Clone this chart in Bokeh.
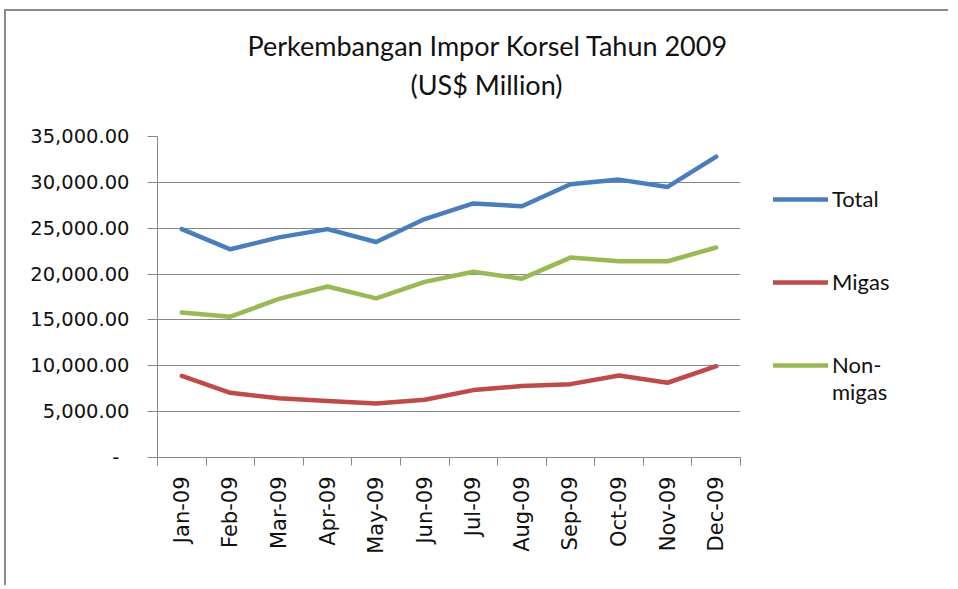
import math
from bokeh.plotting import figure
from bokeh.layouts import row
from bokeh.models import (Range1d, FixedTicker, CustomJSTickFormatter, Title,
                          Legend, LegendItem)
from bokeh.embed import file_html
from bokeh.resources import INLINE

# ---- data (US$ Million) ----
months = ["Jan-09", "Feb-09", "Mar-09", "Apr-09", "May-09", "Jun-09",
          "Jul-09", "Aug-09", "Sep-09", "Oct-09", "Nov-09", "Dec-09"]
total = [24900, 22700, 24000, 24900, 23500, 26000, 27700, 27400, 29800, 30300, 29500, 32800]
migas = [8900, 7050, 6450, 6150, 5900, 6300, 7350, 7800, 8000, 8950, 8150, 9950]
nonmigas = [15800, 15350, 17300, 18650, 17350, 19150, 20250, 19500, 21800, 21400, 21400, 22900]
y_ticks = [0, 5000, 10000, 15000, 20000, 25000, 30000, 35000]
title_lines = ["Perkembangan Impor Korsel Tahun 2009", "(US$ Million)"]
series_names = ["Total", "Migas", "Non-\nmigas"]
series_colors = ["#4A7EBB", "#BE4B48", "#98B954"]

xs = list(range(1, len(months) + 1))

GRID = "#878787"
BORDER = "2px solid #8a8a8a"
p = figure(width=744, height=576, output_backend="svg", toolbar_location=None,
           title=None,
           x_range=Range1d(0.5, len(months) + 0.5), y_range=Range1d(0, 35000),
           min_border_left=151, min_border_right=10, min_border_top=125,
           min_border_bottom=130)
p.margin = (9, 0, 0, 4)
p.styles = {"border-left": BORDER, "border-top": BORDER}
p.outline_line_color = None
p.background_fill_color = "white"
p.border_fill_color = "white"

# grid
p.xgrid.visible = False
p.ygrid.ticker = FixedTicker(ticks=y_ticks)
p.ygrid.grid_line_color = GRID
p.ygrid.grid_line_width = 1

# y axis
p.yaxis.ticker = FixedTicker(ticks=y_ticks)
p.yaxis.formatter = CustomJSTickFormatter(code="""
if (tick == 0) { return "-\\u00a0\\u2009"; }
return tick.toLocaleString('en-US', {minimumFractionDigits: 2, maximumFractionDigits: 2});
""")
p.yaxis.axis_line_color = GRID
p.yaxis.major_tick_line_color = GRID
p.yaxis.major_tick_out = 10
p.yaxis.major_tick_in = 0
p.yaxis.minor_tick_line_color = None
p.yaxis.major_label_standoff = 18
p.yaxis.major_label_text_font = "DejaVu Sans"
p.yaxis.major_label_text_font_size = "19.5px"
p.yaxis.major_label_text_color = "#111111"

# x axis
p.xaxis.ticker = FixedTicker(ticks=xs, minor_ticks=[i + 0.5 for i in range(len(months) + 1)])
p.xaxis.major_label_overrides = {x: m for x, m in zip(xs, months)}
p.xaxis.major_label_orientation = math.pi / 2
p.xaxis.axis_line_color = GRID
p.xaxis.major_tick_line_color = None
p.xaxis.major_tick_out = 0
p.xaxis.major_tick_in = 0
p.xaxis.minor_tick_line_color = GRID
p.xaxis.minor_tick_out = 8
p.xaxis.minor_tick_in = 0
p.xaxis.major_label_standoff = 11
p.xaxis.major_label_text_font = "DejaVu Sans"
p.xaxis.major_label_text_font_size = "21px"
p.xaxis.major_label_text_color = "#111111"

# series
for ys, c in zip([total, migas, nonmigas], series_colors):
    p.line(xs, ys, line_color=c, line_width=4.5, line_join="round", line_cap="round")

# title: spacer (closest to frame), then line 2, then line 1 (outermost)
p.add_layout(Title(text="\u00a0", text_font_size="24px", standoff=4), "above")
p.add_layout(Title(text=title_lines[1], align="left", offset=253, text_font="Lato",
                   text_font_size="27px", text_font_style="normal",
                   text_color="#111111", standoff=6), "above")
p.add_layout(Title(text=title_lines[0], align="left", offset=90, text_font="Lato",
                   text_font_size="27px", text_font_style="normal",
                   text_color="#111111", standoff=2), "above")

# ---- legend panel (separate figure on the right) ----
leg = figure(width=200, height=576, output_backend="svg", toolbar_location=None,
             title=None, x_axis_type=None, y_axis_type=None,
             x_range=Range1d(0, 1), y_range=Range1d(0, 1),
             min_border_left=0, min_border_right=0, min_border_top=0, min_border_bottom=0)
leg.margin = (9, 0, 0, 0)
leg.styles = {"border-top": BORDER}
leg.outline_line_color = None
leg.grid.visible = False
leg.background_fill_color = "white"
leg.border_fill_color = "white"

items = []
for name, c in zip(series_names, series_colors):
    # key-only renderer: its points lie outside the visible range
    r = leg.line(x=[-2, -1], y=[-2, -1], line_color=c, line_width=4.5, line_cap="round")
    # a blank first line keeps the glyph level with "Non-" on the two-line label
    label = name if "\n" not in name else "\u00a0\n" + name
    items.append(LegendItem(label=label, renderers=[r]))

legend = Legend(items=items, location=(25, 51), orientation="vertical",
                glyph_width=55, glyph_height=20, label_height=83, label_standoff=4,
                spacing=0, padding=0, margin=0,
                label_text_font="Lato", label_text_font_size="22px",
                label_text_line_height=1.3,
                label_text_color="#111111",
                border_line_color=None, background_fill_alpha=0)
leg.add_layout(legend, "center")

open("out.html", "w").write(file_html(row(p, leg), INLINE))
